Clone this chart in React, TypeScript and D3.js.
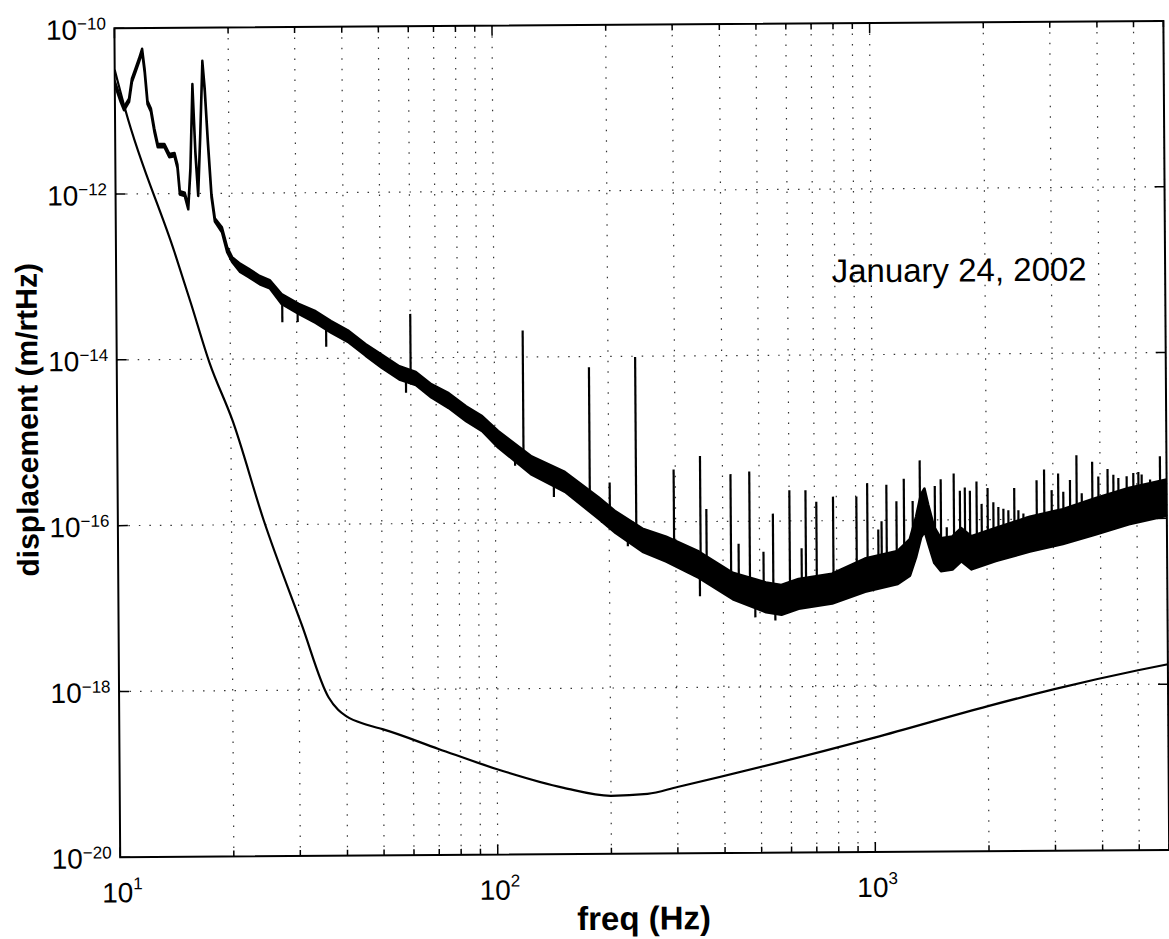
import React from "react";
import * as d3 from "d3";

// measured noise spectrum: frequency (Hz), log10 of the band centre, band half-width (decades)
const noiseFreq = [
  10, 10.36, 10.57, 10.9, 11.1, 11.35, 11.6, 11.83, 12.0, 12.2, 12.45, 12.7, 12.96, 13.5, 13.9,
  14.35, 14.6, 14.8, 15.25, 15.57, 15.8, 16.05, 16.3, 16.55, 16.8, 17.07, 17.3, 17.6, 17.95, 18.3,
  19.1, 19.7, 20.3, 21.3, 22.4, 24.0, 25.5, 27.4, 30.4, 33.7, 37, 41.2, 45.6, 50.4, 56, 61.9, 68,
  75.6, 84, 92.6, 102, 125, 153, 188, 208, 245, 283, 345, 424, 519, 570, 633, 777, 950, 1160,
  1250, 1300, 1340, 1370, 1400, 1450, 1510, 1620, 1710, 1820, 2110, 2600, 3180, 3880, 4760, 6000,
];
const noiseLog = [
  -10.66, -10.87, -10.97, -10.87, -10.63, -10.51, -10.39, -10.27, -10.51, -10.9, -10.99, -11.23,
  -11.42, -11.42, -11.54, -11.53, -11.67, -11.99, -12.01, -12.17, -11.71, -10.7, -11.51, -12.01,
  -11.3, -10.42, -10.75, -11.39, -12.03, -12.32, -12.44, -12.68, -12.8, -12.9, -12.96, -13.05,
  -13.1, -13.28, -13.4, -13.5, -13.62, -13.74, -13.9, -14.04, -14.18, -14.25, -14.4, -14.52,
  -14.68, -14.8, -14.99, -15.31, -15.51, -15.83, -16.0, -16.22, -16.33, -16.52, -16.78, -16.92,
  -16.95, -16.88, -16.82, -16.66, -16.57, -16.45, -16.2, -15.95, -15.88, -16.05, -16.3, -16.42,
  -16.4, -16.3, -16.4, -16.3, -16.18, -16.09, -15.97, -15.85, -15.75,
];
const noiseSpread = [
  0.02, 0.02, 0.02, 0.02, 0.02, 0.02, 0.02, 0.02, 0.02, 0.02, 0.02, 0.02, 0.02, 0.02, 0.02,
  0.02, 0.02, 0.02, 0.02, 0.02, 0.02, 0.02, 0.02, 0.02, 0.02, 0.02, 0.02, 0.02, 0.02, 0.02,
  0.03, 0.03, 0.03, 0.05, 0.05, 0.05, 0.05, 0.06, 0.06, 0.07, 0.07, 0.07, 0.07, 0.08, 0.08, 0.08,
  0.08, 0.09, 0.09, 0.09, 0.1, 0.11, 0.12, 0.13, 0.13, 0.14, 0.15, 0.16, 0.16, 0.18, 0.18, 0.18,
  0.18, 0.2, 0.2, 0.22, 0.24, 0.26, 0.26, 0.24, 0.22, 0.2, 0.2, 0.2, 0.2, 0.2, 0.21, 0.21, 0.22,
  0.22, 0.22,
];

// narrow lines standing above the band: frequency (Hz) and log10 of the peak
const lineFreq = [
  60, 119, 178, 201, 236, 297, 349, 362, 420, 440, 471, 512, 543, 601, 646, 663, 708, 784, 904,
  966, 1032, 1053, 1086, 1154, 1208, 1274, 1332, 1459, 1513, 1567, 1638, 1700, 1752, 1807, 1882,
  1940, 2013, 2084, 2148, 2215, 2283, 2368, 2427, 2502, 2554, 2715, 2843, 2975, 3097, 3194, 3328,
  3465, 3574, 3813, 3957, 4187, 4337, 4471, 4703, 4898, 5052, 5154, 5425, 5765,
];
const lineTopLog = [
  -13.47, -13.68, -14.13, -15.52, -14.01, -15.37, -15.21, -15.85, -15.43, -16.27, -15.4, -16.37,
  -15.91, -15.63, -16.33, -15.63, -15.77, -15.71, -15.71, -15.55, -16.11, -16.01, -15.57, -15.77,
  -15.5, -15.77, -15.28, -15.59, -15.51, -16.09, -15.44, -15.65, -15.61, -15.65, -15.54, -15.81,
  -15.62, -15.79, -15.85, -15.87, -15.89, -15.62, -15.89, -15.93, -15.97, -15.53, -15.4, -15.65,
  -15.45, -15.67, -15.53, -15.23, -15.69, -15.31, -15.49, -15.4, -15.47, -15.51, -15.49, -15.45,
  -15.44, -15.47, -15.53, -15.25,
];

// short dips reaching below the band: frequency (Hz) and log10 of the trough
const dipFreq = [27.5, 30.2, 35.9, 58.3, 113, 143, 198, 224, 347, 486, 549];
const dipLog = [-13.56, -13.56, -13.86, -14.42, -15.31, -15.69, -16.05, -16.29, -16.9, -17.16, -17.2];

// design sensitivity curve
const refFreq = [10, 10.66, 14.3, 15.75, 17.6, 20.24, 24.35, 30.5, 35.9, 38, 40, 45, 50, 70, 100, 150, 200, 250, 300, 1000, 2000, 3000, 5000, 6000];
const refLog = [-10.5, -10.99, -12.71, -13.32, -14.04, -14.75, -15.95, -17.2, -18.09, -18.24, -18.32, -18.42, -18.48, -18.72, -18.97, -19.2, -19.3, -19.28, -19.2, -18.62, -18.25, -18.05, -17.83, -17.76];

const xTickExp = [1, 2, 3];
const yTickExp = [-20, -18, -16, -14, -12, -10];
const xLabel = "freq (Hz)";
const yLabel = "displacement (m/rtHz)";
const note = "January 24, 2002";

const W = 1169;
const H = 939;
const M = { left: 117.5, right: 2.5, top: 25, bottom: 85 };
const FONT = "'Liberation Sans', Arial, Helvetica, sans-serif";

export default function App() {
  const x = d3.scaleLog().domain([10, 6000]).range([M.left, W - M.right]);
  const y = d3.scaleLog().domain([1e-20, 1e-10]).range([H - M.bottom, M.top]);
  const x0 = M.left, x1 = W - M.right, y0 = H - M.bottom, y1 = M.top;

  const noise = noiseFreq.map((f, i) => ({
    f,
    lo: 10 ** (noiseLog[i] - noiseSpread[i]),
    hi: 10 ** (noiseLog[i] + noiseSpread[i]),
  }));
  const band = d3.area<any>().x(d => x(d.f)).y0(d => y(d.lo)).y1(d => y(d.hi));

  // band centre at any frequency, used as the foot of lines and dips
  const centreAt = d3.scaleLinear().domain(noiseFreq.map(Math.log10)).range(noiseLog).clamp(true);

  const ref = refFreq.map((f, i) => ({ f, v: 10 ** refLog[i] }));
  const refLine = d3.line<any>().x(d => x(d.f)).y(d => y(d.v)).curve(d3.curveMonotoneX);

  const xt = x.ticks();
  const isMajor = (f: number) => Math.abs(Math.log10(f) - Math.round(Math.log10(f))) < 1e-9;

  return (
    <svg width={W} height={H} style={{ position: "absolute", left: 0, top: 0, background: "#fff" }} fontFamily={FONT}>
      <defs>
        <clipPath id="plot">
          <rect x={x0} y={y1} width={x1 - x0} height={y0 - y1} />
        </clipPath>
      </defs>
      <g transform={`rotate(-0.4 ${W / 2} ${H / 2})`}>
        {/* grid */}
        <g stroke="#333" strokeWidth={1.2} strokeDasharray="1.5 9">
          {xt.filter(f => f > 10).map(f => (
            <line key={"gx" + f} x1={x(f)} x2={x(f)} y1={y1} y2={y0} />
          ))}
          {yTickExp.slice(1, -1).map(e => (
            <line key={"gy" + e} x1={x0} x2={x1} y1={y(10 ** e)} y2={y(10 ** e)} />
          ))}
        </g>

        {/* ticks */}
        <g stroke="#000" strokeWidth={1.5}>
          {xt.map(f => {
            const len = isMajor(f) ? 10 : 6;
            return (
              <g key={"tx" + f}>
                <line x1={x(f)} x2={x(f)} y1={y0} y2={y0 - len} />
                <line x1={x(f)} x2={x(f)} y1={y1} y2={y1 + len} />
              </g>
            );
          })}
          {yTickExp.map(e => (
            <g key={"ty" + e}>
              <line x1={x0} x2={x0 + 10} y1={y(10 ** e)} y2={y(10 ** e)} />
              <line x1={x1} x2={x1 - 10} y1={y(10 ** e)} y2={y(10 ** e)} />
            </g>
          ))}
        </g>

        {/* data */}
        <g clipPath="url(#plot)">
          <path d={band(noise) || ""} fill="#000" stroke="#000" strokeWidth={2.5} strokeLinejoin="round" />
          <g stroke="#000" strokeWidth={2.2}>
            {lineFreq.map((f, i) => (
              <line key={"ln" + f} x1={x(f)} x2={x(f)} y1={y(10 ** lineTopLog[i])} y2={y(10 ** centreAt(Math.log10(f)))} />
            ))}
            {dipFreq.map((f, i) => (
              <line key={"dp" + f} x1={x(f)} x2={x(f)} y1={y(10 ** dipLog[i])} y2={y(10 ** centreAt(Math.log10(f)))} />
            ))}
          </g>
          <path d={refLine(ref) || ""} fill="none" stroke="#000" strokeWidth={2.2} />
        </g>

        {/* frame */}
        <rect x={x0} y={y1} width={x1 - x0} height={y0 - y1} fill="none" stroke="#000" strokeWidth={2} />

        {/* tick labels */}
        <g fill="#000">
          {yTickExp.map(e => (
            <text key={"ly" + e} x={109} y={y(10 ** e) + 11} textAnchor="end" fontSize={28}>
              10<tspan fontSize={17} dy={-10}>{"\u2212" + Math.abs(e)}</tspan>
            </text>
          ))}
          {xTickExp.map(e => (
            <text key={"lx" + e} x={x(10 ** e) + 2} y={899} textAnchor="middle" fontSize={28}>
              10<tspan fontSize={17} dy={-13}>{e}</tspan>
            </text>
          ))}
        </g>

        <text x={641} y={930} textAnchor="middle" fontSize={33} fontWeight="bold">{xLabel}</text>
        <text transform={`translate(38 416) rotate(-90)`} textAnchor="middle" fontSize={30} fontWeight="bold">{yLabel}</text>
        <text x={833} y={284} fontSize={33}>{note}</text>
      </g>
    </svg>
  );
}
